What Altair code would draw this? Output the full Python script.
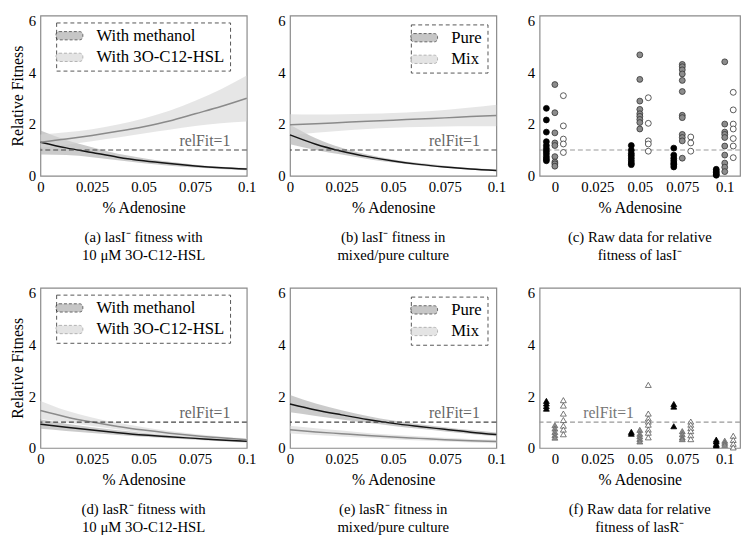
import altair as alt
import pandas as pd

FONT = "Liberation Serif"
FS = 15

# common x grid of the fitted curves (% adenosine)
xs = [0, 0.0125, 0.025, 0.0375, 0.05, 0.0625, 0.075, 0.0875, 0.1]

# ---- (a) lasI- with methanol / with 3O-C12-HSL
a_names = ["With methanol", "With 3O-C12-HSL"]
a_fit1 = [1.30, 1.08, 0.90, 0.72, 0.58, 0.47, 0.38, 0.31, 0.26]
a_lo1 = [0.82, 0.80, 0.72, 0.60, 0.48, 0.39, 0.32, 0.26, 0.21]
a_hi1 = [1.75, 1.38, 1.10, 0.85, 0.68, 0.54, 0.43, 0.35, 0.30]
a_fit2 = [1.30, 1.42, 1.56, 1.72, 1.90, 2.12, 2.40, 2.68, 3.00]
a_lo2 = [1.08, 1.20, 1.34, 1.48, 1.64, 1.78, 1.93, 2.03, 2.10]
a_hi2 = [1.60, 1.68, 1.80, 1.98, 2.22, 2.52, 2.90, 3.35, 3.88]

# ---- (b) lasI- pure / mix
b_names = ["Pure", "Mix"]
b_fit1 = [1.58, 1.22, 0.95, 0.74, 0.57, 0.44, 0.34, 0.26, 0.20]
b_lo1 = [1.22, 1.00, 0.82, 0.65, 0.51, 0.40, 0.31, 0.23, 0.17]
b_hi1 = [1.97, 1.45, 1.08, 0.82, 0.63, 0.49, 0.39, 0.30, 0.24]
b_fit2 = [1.97, 2.01, 2.06, 2.11, 2.15, 2.20, 2.24, 2.29, 2.33]
b_lo2 = [1.56, 1.66, 1.74, 1.81, 1.86, 1.89, 1.91, 1.92, 1.92]
b_hi2 = [2.38, 2.37, 2.38, 2.40, 2.43, 2.48, 2.55, 2.64, 2.75]

# ---- (d) lasR- with methanol / with 3O-C12-HSL
d_fit1 = [0.92, 0.80, 0.69, 0.59, 0.50, 0.43, 0.37, 0.31, 0.26]
d_lo1 = [0.74, 0.66, 0.58, 0.50, 0.43, 0.37, 0.32, 0.26, 0.21]
d_hi1 = [1.10, 0.94, 0.80, 0.68, 0.58, 0.49, 0.42, 0.36, 0.31]
d_fit2 = [1.45, 1.20, 1.00, 0.83, 0.69, 0.57, 0.47, 0.39, 0.32]
d_lo2 = [1.12, 0.98, 0.85, 0.71, 0.59, 0.49, 0.40, 0.33, 0.27]
d_hi2 = [1.82, 1.45, 1.18, 0.97, 0.80, 0.66, 0.54, 0.44, 0.37]

# ---- (e) lasR- pure / mix
e_fit1 = [1.70, 1.47, 1.28, 1.10, 0.95, 0.83, 0.72, 0.61, 0.52]
e_lo1 = [1.38, 1.24, 1.10, 0.97, 0.85, 0.74, 0.64, 0.54, 0.45]
e_hi1 = [2.05, 1.72, 1.46, 1.24, 1.06, 0.92, 0.80, 0.69, 0.60]
e_fit2 = [0.70, 0.62, 0.55, 0.48, 0.42, 0.37, 0.32, 0.28, 0.25]
e_lo2 = [0.56, 0.50, 0.44, 0.39, 0.34, 0.29, 0.25, 0.21, 0.18]
e_hi2 = [0.86, 0.76, 0.67, 0.58, 0.51, 0.45, 0.39, 0.35, 0.32]

# ---- raw data (c) lasI-, (f) lasR- : dose -> values per group
doses = [0, 0.05, 0.075, 0.1]
groups = ["black", "gray", "white"]
c_black = [[2.61, 2.16, 1.69, 1.32, 1.17, 1.05, 0.95, 0.85, 0.74, 0.65, 0.58],
           [1.17, 0.99, 0.86, 0.78, 0.68, 0.58, 0.49, 0.43],
           [1.07, 0.80, 0.68, 0.58, 0.49, 0.43, 0.34],
           [0.25, 0.18, 0.12, 0.06, 0.02]]
c_gray = [[3.53, 2.44, 1.66, 1.27, 1.17, 0.74, 0.53, 0.46, 0.37],
          [4.68, 3.73, 2.89, 2.57, 2.40, 2.30, 2.18, 2.06, 1.81],
          [4.31, 4.22, 4.10, 3.94, 3.69, 3.26, 2.34, 2.25, 1.60, 1.48, 1.35, 0.68],
          [4.41, 2.00, 1.69, 1.60, 1.48, 1.15, 0.80, 0.49, 0.33, 0.16]]
c_white = [[3.10, 1.93, 1.42, 1.23, 0.90],
           [3.02, 2.03, 1.35, 1.23, 0.95],
           [1.50, 1.27, 0.95],
           [3.23, 2.55, 2.00, 1.81, 1.44, 1.15, 0.70]]
f_black = [[1.82, 1.72, 1.62, 1.52],
           [0.62, 0.55],
           [1.70, 1.60, 0.84],
           [0.32, 0.25, 0.15, 0.10]]
f_gray = [[0.88, 0.75, 0.62, 0.50, 0.40],
          [0.70, 0.55, 0.45, 0.35, 0.25],
          [0.65, 0.53, 0.41, 0.34],
          [0.28, 0.20, 0.12]]
f_white = [[1.85, 1.64, 1.33, 1.08, 0.86, 0.71, 0.53],
           [2.44, 1.33, 1.14, 1.02, 0.90, 0.71, 0.59, 0.41],
           [1.02, 0.90, 0.77, 0.65, 0.49, 0.34],
           [0.47, 0.31, 0.16, 0.02]]

xticks = [0, 0.025, 0.05, 0.075, 0.1]
yticks = [0, 2, 4, 6]

SWATCH = ("M-1.5,-0.6 L1.5,-0.6 A0.45,0.45 0 0 1 1.95,-0.15 L1.95,0.15 A0.45,0.45 0 0 1 1.5,0.6 "
          "L-1.5,0.6 A0.45,0.45 0 0 1 -1.95,0.15 L-1.95,-0.15 A0.45,0.45 0 0 1 -1.5,-0.6 Z")

W, H = 210, 163
WR = 204


def x_axis():
    return alt.Axis(values=xticks, labelExpr="toString(datum.value)", title="% Adenosine",
                    labelFlush=False, labelPadding=4, titlePadding=5)


def y_axis(with_title):
    if with_title:
        return alt.Axis(values=yticks, title="Relative Fitness", labelFlush=False,
                        labelPadding=5, titlePadding=3)
    return alt.Axis(values=yticks, title=None, labelFlush=False, labelPadding=5)


def caption_title(lines):
    return alt.TitleParams(lines, orient="bottom", offset=15, font=FONT, fontSize=FS,
                           fontWeight="normal", lineHeight=19, anchor="middle")


def fit_panel(names, fit1, lo1, hi1, fit2, lo2, hi2, left_legend, ytitle, caption):
    rows = []
    for nm, f, lo, hi in [(names[0], fit1, lo1, hi1), (names[1], fit2, lo2, hi2)]:
        for i in range(len(xs)):
            rows.append({"x": xs[i], "fit": f[i], "lo": lo[i], "hi": hi[i], "series": nm})
    df = pd.DataFrame(rows)
    xs_ = alt.Scale(domain=[0, 0.1], nice=False, zero=False)
    ys_ = alt.Scale(domain=[0, 6.2], nice=False)
    if left_legend:
        leg = alt.Legend(title=None, orient="none", legendX=16, legendY=7)
    else:
        leg = alt.Legend(title=None, orient="top-right", offset=9)
    leg_kw = dict(symbolType=SWATCH, symbolSize=196, symbolStrokeColor="#8c8c8c",
                  symbolStrokeWidth=1, symbolDash=[3, 2], symbolOpacity=0.65,
                  labelFont=FONT, labelFontSize=17, labelOffset=19, rowPadding=4,
                  padding=5, labelColor="black")
    for k, v in leg_kw.items():
        setattr(leg, k, v)
    band = alt.Chart(df).mark_area(interpolate="monotone", fillOpacity=0.6).encode(
        x=alt.X("x:Q", scale=xs_, axis=x_axis()),
        y=alt.Y("lo:Q", scale=ys_, axis=y_axis(ytitle)),
        y2="hi:Q",
        fill=alt.Fill("series:N", sort=names,
                      scale=alt.Scale(domain=names, range=["#a8a8a8", "#d6d6d6"]),
                      legend=leg),
    )
    line = alt.Chart(df).mark_line(interpolate="monotone", strokeWidth=1.5).encode(
        x=alt.X("x:Q", scale=xs_),
        y=alt.Y("fit:Q", scale=ys_),
        color=alt.Color("series:N", scale=alt.Scale(domain=names, range=["#151515", "#8a8a8a"]),
                        legend=None),
        detail="series:N",
    )
    ref = pd.DataFrame({"y": [1.0], "lx": [0.092], "ly": [1.14], "t": ["relFit=1"]})
    rule = alt.Chart(ref).mark_rule(color="#444", strokeDash=[5, 3], strokeWidth=1.1).encode(
        y=alt.Y("y:Q", scale=ys_))
    lab = alt.Chart(ref).mark_text(align="right", baseline="alphabetic", font=FONT,
                                   fontSize=16, color="#666").encode(
        x=alt.X("lx:Q", scale=xs_), y=alt.Y("ly:Q", scale=ys_), text="t:N")
    return alt.layer(band, line, rule, lab).properties(
        width=W, height=H, title=caption_title(caption))


def raw_panel(black, gray, white, shape, caption, with_label):
    offs = {"black": -0.005, "gray": 0.0, "white": 0.005}
    rows = []
    for g, arr in zip(groups, [black, gray, white]):
        for d, vals in zip(doses, arr):
            for v in vals:
                rows.append({"xp": d + offs[g], "v": v, "g": g})
    df = pd.DataFrame(rows)
    xs_ = alt.Scale(domain=[-0.009, 0.109], nice=False, zero=False)
    ys_ = alt.Scale(domain=[0, 6.2], nice=False)
    fills = ["#000000", "#8c8c8c", "#ffffff"]
    if shape == "circle":
        strokes = ["#000000", "#333333", "#333333"]
    else:
        strokes = ["#000000", "#6a6a6a", "#555555"]
    ref = pd.DataFrame({"y": [1.0], "lx": [0.0316], "ly": [1.14], "t": ["relFit=1"]})
    rule = alt.Chart(ref).mark_rule(color="#999", strokeDash=[5, 3], strokeWidth=1.1).encode(
        y=alt.Y("y:Q", scale=ys_))
    pts = alt.Chart(df).mark_point(shape=shape, filled=True, size=36, strokeWidth=0.8,
                                   opacity=1).encode(
        x=alt.X("xp:Q", scale=xs_, axis=x_axis()),
        y=alt.Y("v:Q", scale=ys_, axis=y_axis(False)),
        fill=alt.Fill("g:N", scale=alt.Scale(domain=groups, range=fills), legend=None),
        stroke=alt.Stroke("g:N", scale=alt.Scale(domain=groups, range=strokes), legend=None),
    )
    layers = [rule, pts]
    if with_label:
        lab = alt.Chart(ref).mark_text(align="center", baseline="alphabetic", font=FONT,
                                       fontSize=16, color="#777").encode(
            x=alt.X("lx:Q", scale=xs_), y=alt.Y("ly:Q", scale=ys_), text="t:N")
        layers.append(lab)
    return alt.layer(*layers).properties(width=WR, height=H, title=caption_title(caption))


pa = fit_panel(a_names, a_fit1, a_lo1, a_hi1, a_fit2, a_lo2, a_hi2, True, True,
               ["(a) lasI\u207b fitness with", "10 \u03bcM 3O-C12-HSL"])
pb = fit_panel(b_names, b_fit1, b_lo1, b_hi1, b_fit2, b_lo2, b_hi2, False, False,
               ["(b) lasI\u207b fitness in", "mixed/pure culture"])
pc = raw_panel(c_black, c_gray, c_white, "circle",
               ["(c) Raw data for relative", "fitness of lasI\u207b"], False)
pd_ = fit_panel(a_names, d_fit1, d_lo1, d_hi1, d_fit2, d_lo2, d_hi2, True, True,
                ["(d) lasR\u207b fitness with", "10 \u03bcM 3O-C12-HSL"])
pe = fit_panel(b_names, e_fit1, e_lo1, e_hi1, e_fit2, e_lo2, e_hi2, False, False,
               ["(e) lasR\u207b fitness in", "mixed/pure culture"])
pf = raw_panel(f_black, f_gray, f_white, "triangle-up",
               ["(f) Raw data for relative", "fitness of lasR\u207b"], True)

RES = dict(x="independent", y="independent", fill="independent", color="independent",
           stroke="independent")
LRES = dict(fill="independent", color="independent", stroke="independent")


def row(*charts):
    return alt.hconcat(*charts, spacing=20).resolve_scale(**RES).resolve_legend(**LRES)


chart = alt.vconcat(row(pa, pb, pc), row(pd_, pe, pf), spacing=21).resolve_scale(
    **RES).resolve_legend(**LRES).properties(padding=0).configure(
    font=FONT).configure_axis(
    labelFont=FONT, titleFont=FONT, labelFontSize=FS, titleFontSize=16,
    titleFontWeight="normal", labelColor="black", titleColor="black",
    grid=False, ticks=False, domain=False).configure_view(
    stroke="#8a8a8a", strokeWidth=1.2).configure_legend(
    strokeColor="#555", strokeDash=[4, 3], strokeWidth=1, fillColor="white")

chart.save("out.html", embed_options={"renderer": "svg", "actions": False})
